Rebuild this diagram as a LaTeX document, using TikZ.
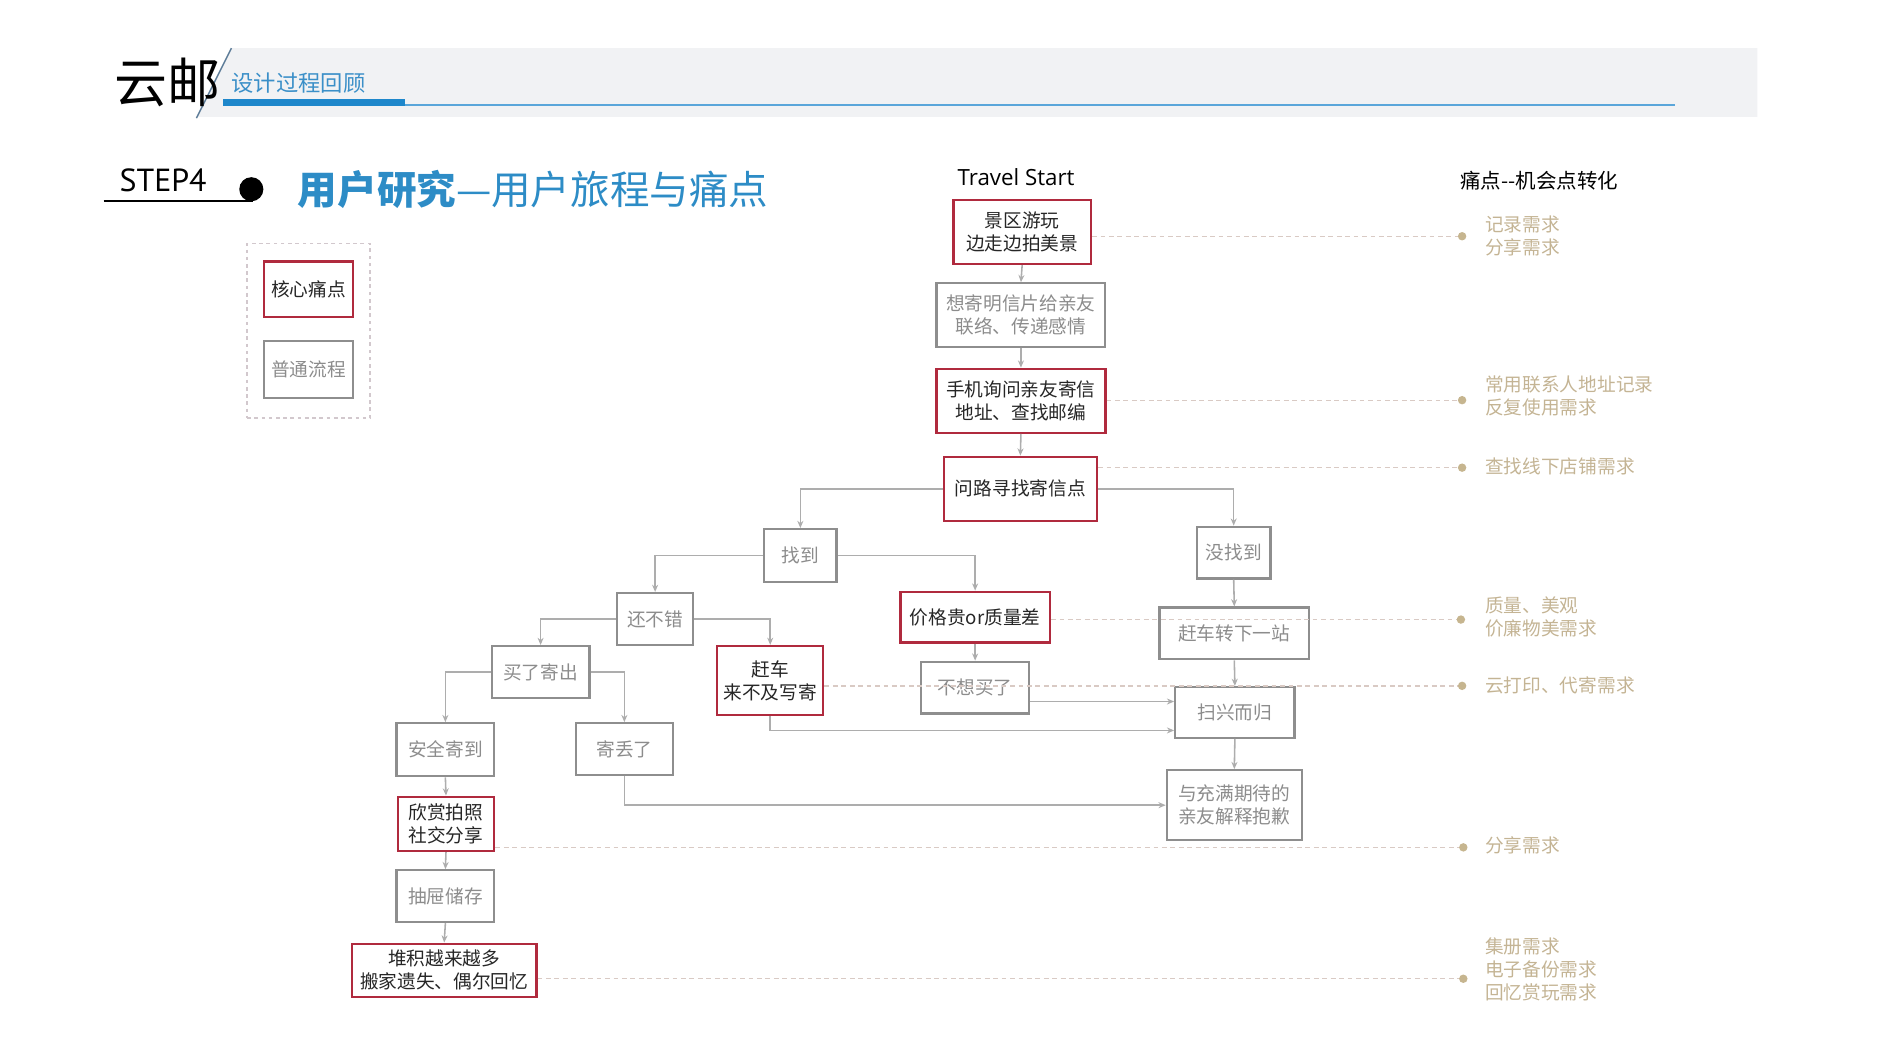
\documentclass[tikz,border=0pt]{standalone}
\usepackage{fontspec}
\setmainfont{Noto Sans CJK SC}
\newfontfamily\latinfont{Open Sans}
\newfontfamily\stepfont{PT Sans}
\usetikzlibrary{arrows.meta,calc}
\definecolor{redc}{HTML}{B02A3E}
\definecolor{grayc}{HTML}{8E8E8E}
\definecolor{graytext}{HTML}{8C8C8C}
\definecolor{connc}{HTML}{ADADAD}
\definecolor{dashc}{HTML}{D9CAC4}
\definecolor{dotcol}{HTML}{C6B58F}
\definecolor{oppc}{HTML}{C4B494}
\definecolor{bandc}{HTML}{F1F2F4}
\definecolor{slashc}{HTML}{5E7D99}
\definecolor{bluec}{HTML}{3A8FC8}
\definecolor{barc}{HTML}{1E87CB}
\definecolor{thinc}{HTML}{5AA6DA}
\definecolor{titleblue}{HTML}{2D8CC6}
\definecolor{legc}{HTML}{D2C8CD}
\newcommand\boxfont{\fontsize{15.5}{19}\selectfont}
\begin{document}
\begin{tikzpicture}[x=1pt,y=-1pt,
  redbox/.style={draw=redc, line width=2pt, align=center, inner sep=0pt, text=black!85, font=\boxfont},
  graybox/.style={draw=grayc, line width=1.8pt, align=center, inner sep=0pt, text=graytext, font=\boxfont},
  sz/.style 2 args={minimum width=#1pt, minimum height=#2pt},
  conn/.style={draw=connc, line width=1.3pt, -{Stealth[length=6pt,width=5pt]}},
  dline/.style={draw=dashc, line width=1.1pt, dash pattern=on 4pt off 3pt},
  dotc/.style={circle, fill=dotcol, inner sep=0pt, minimum size=7pt},
  opp/.style={anchor=west, align=left, text=oppc, font=\boxfont, inner sep=0pt},
]
\path[use as bounding box] (0,0) rectangle (1568,882);

% header
\fill[bandc] (192,40) -- (1458,40) -- (1458,97) -- (163,97) -- cycle;
\draw[slashc, line width=1.2pt] (192,40) -- (163,98);
\node[anchor=west, font=\fontsize{44}{44}\selectfont, inner sep=0pt] (logo) at (95,68) {云邮};
\node[anchor=west, text=bluec, font=\fontsize{18.5}{18.5}\selectfont, inner sep=0pt] (sub) at (192,69) {设计过程回顾};
\fill[barc] (185,82.5) rectangle (336,88);
\draw[thinc, line width=1.2pt] (336,87) -- (1390,87);

% step title
\node[anchor=west, font=\stepfont\fontsize{26.5}{26.5}\selectfont, inner sep=0pt] (step) at (99,150) {STEP4};
\draw[black, line width=1.5pt] (86,167) -- (210,167);
\fill[black] (208.5,157) circle (10pt);
\node[anchor=west, text=titleblue, inner sep=0pt, font=\fontsize{32.8}{32.8}\selectfont] (title) at (247,157) {{\bfseries 用户研究}—用户旅程与痛点};

\node[font=\latinfont\fontsize{18.5}{18.5}\selectfont, inner sep=0pt] (ts) at (843,147) {Travel Start};
\node[font=\fontsize{17}{17}\selectfont, inner sep=0pt] (tp) at (1277,150) {痛点-{}-机会点转化};

% legend
\node[draw=legc, line width=1.3pt, dash pattern=on 3pt off 3pt, sz={102}{145}] (leg) at (256,274.5) {};
\node[redbox, sz={74}{46}] (lg1) at (256,240) {核心痛点};
\node[graybox, sz={74}{47}] (lg2) at (256,306.5) {普通流程};

% flow nodes
\node[redbox, sz={114}{53}] (n1) at (848,192.5) {景区游玩\\边走边拍美景};
\node[graybox, sz={140}{53}] (n2) at (847,261.5) {想寄明信片给亲友\\联络、传递感情};
\node[redbox, sz={140}{53}] (n3) at (847,332.5) {手机询问亲友寄信\\地址、查找邮编};
\node[redbox, sz={127}{53}] (n4) at (846.5,405.5) {问路寻找寄信点};
\node[graybox, sz={60}{44}] (n5) at (664,461) {找到};
\node[graybox, sz={61}{43}] (n6) at (1023.5,458.5) {没找到};
\node[graybox, sz={63}{43}] (n7) at (543.5,513.5) {还不错};
\node[redbox, sz={124}{42}] (n8) at (809,512) {价格贵or质量差};
\node[graybox, sz={124}{43}] (n9) at (1024,525.5) {赶车转下一站};
\node[graybox, sz={81}{43}] (n10) at (448.5,557.5) {买了寄出};
\node[redbox, sz={88}{57}] (n11) at (639,564.5) {赶车\\来不及写寄};
\node[graybox, sz={90}{43}] (n12) at (809,570.5) {不想买了};
\node[graybox, sz={99}{42}] (n13) at (1024.5,591) {扫兴而归};
\node[graybox, sz={81}{44}] (n14) at (369.5,622) {安全寄到};
\node[graybox, sz={80}{43}] (n15) at (518,621.5) {寄丢了};
\node[graybox, sz={112}{58}] (n16) at (1024,668) {与充满期待的\\亲友解释抱歉};
\node[redbox, sz={80}{45}] (n17) at (370,683.5) {欣赏拍照\\社交分享};
\node[graybox, sz={81}{43}] (n18) at (369.5,743.5) {抽屉储存};
\node[redbox, sz={153}{44}] (n19) at (368.5,805) {堆积越来越多\\搬家遗失、偶尔回忆};

% connectors
\draw[conn] (n1.south) -- (n2.north);
\draw[conn] (n2.south) -- (n3.north);
\draw[conn] (n3.south) -- (n4.north);
\draw[conn] (n4.west) -| (n5.north);
\draw[conn] (n4.east) -| (n6.north);
\draw[conn] (n5.west) -| (n7.north);
\draw[conn] (n5.east) -| (n8.north);
\draw[conn] (n7.west) -| (n10.north);
\draw[conn] (n7.east) -| (n11.north);
\draw[conn] (n10.west) -| (n14.north);
\draw[conn] (n10.east) -| (n15.north);
\draw[conn] (n6.south) -- (n9.north);
\draw[conn] (n9.south) -- (n13.north);
\draw[conn] (n13.south) -- (n16.north);
\draw[conn] (n8.south) -- (n12.north);
\draw[conn] (n14.south) -- (n17.north);
\draw[conn] (n17.south) -- (n18.north);
\draw[conn] (n18.south) -- (n19.north);
\coordinate (c12) at ([yshift=-11.5pt]n12.east);
\draw[conn] (c12) -- (c12 -| n13.west);
\draw[conn] (n11.south) |- ([yshift=-15pt]n13.west);
\draw[conn] (n15.south) |- (n16.west);

% pain point -> opportunity
\coordinate (d1) at (1213,196);
\coordinate (d2) at (1213,332);
\coordinate (d3) at (1213,388);
\coordinate (d4) at (1212,514);
\coordinate (d5) at (1213,569);
\coordinate (d6) at (1214,703);
\coordinate (d7) at (1214,812);
\draw[dline] (d1 -| n1.east) -- (d1);
\draw[dline] (d2 -| n3.east) -- (d2);
\draw[dline] (d3 -| n4.east) -- (d3);
\draw[dline] (d4 -| n8.east) -- (d4);
\draw[dline] (d5 -| n11.east) -- (d5);
\draw[dline] (d6 -| n17.east) -- (d6);
\draw[dline] (d7 -| n19.east) -- (d7);
\foreach \d in {d1,d2,d3,d4,d5,d6,d7} \node[dotc] at (\d) {};

\node[opp] (o1) at (1232,196) {记录需求\\分享需求};
\node[opp] (o2) at (1232,328.5) {常用联系人地址记录\\反复使用需求};
\node[opp] (o3) at (1232,387) {查找线下店铺需求};
\node[opp] (o4) at (1232,511.5) {质量、美观\\价廉物美需求};
\node[opp] (o5) at (1232,569) {云打印、代寄需求};
\node[opp] (o6) at (1232,701) {分享需求};
\node[opp] (o7) at (1232,804.5) {集册需求\\电子备份需求\\回忆赏玩需求};
\end{tikzpicture}
\end{document}
